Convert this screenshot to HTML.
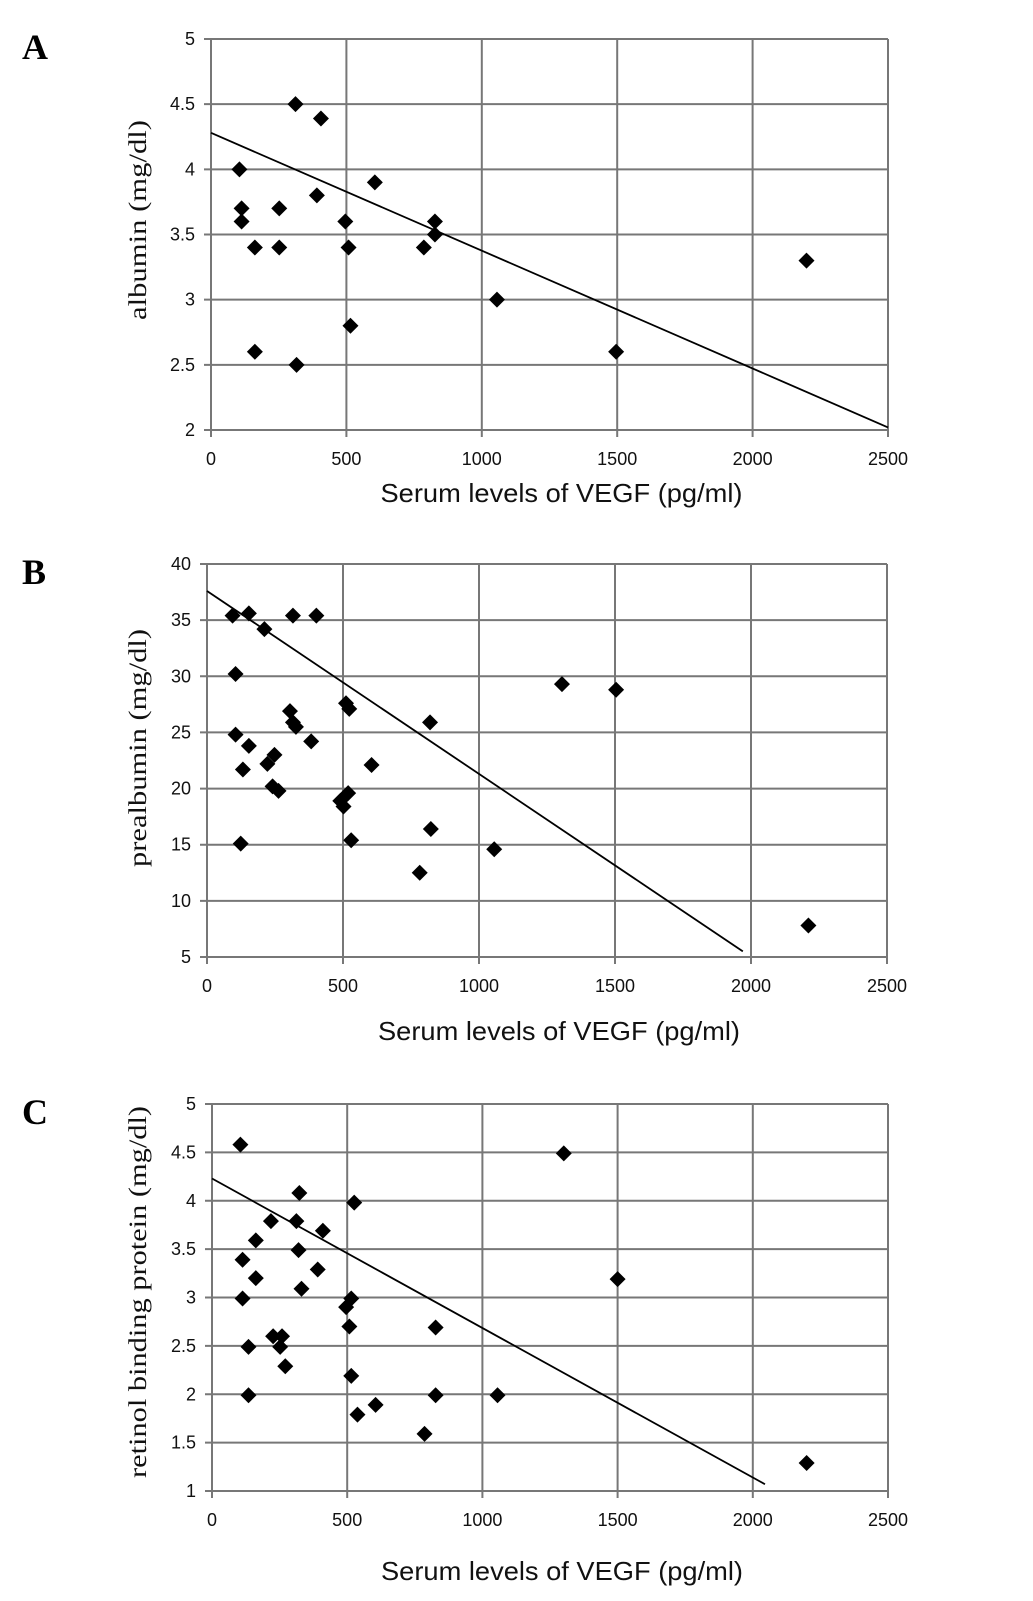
<!DOCTYPE html>
<html><head><meta charset="utf-8"><style>
html,body{margin:0;padding:0;background:#fff;}
svg{display:block;}
.tk{font-family:"Liberation Sans",sans-serif;font-size:18px;fill:#111;}
.xt{font-family:"Liberation Sans",sans-serif;font-size:26px;fill:#111;}
.yt{font-family:"Liberation Serif",serif;font-size:25px;fill:#111;}
.lt{font-family:"Liberation Serif",serif;font-size:36px;font-weight:bold;fill:#000;}
</style></head><body>
<svg id="fig" width="1033" height="1601" viewBox="0 0 1033 1601" xmlns="http://www.w3.org/2000/svg"></svg>
<script>
const xTicks=[0,500,1000,1500,2000,2500];
const aYTicks=[2,2.5,3,3.5,4,4.5,5];
const bYTicks=[5,10,15,20,25,30,35,40];
const cYTicks=[1,1.5,2,2.5,3,3.5,4,4.5,5];
const aX=[105,113,113,162,162,252,252,312,316,406,391,496,508,515,605,786,827,827,1056,1496,2199];
const aY=[4.0,3.7,3.6,3.4,2.6,3.7,3.4,4.5,2.5,4.39,3.8,3.6,3.4,2.8,3.9,3.4,3.6,3.5,3.0,2.6,3.3];
const aTrend=[[0,4.28],[2500,2.02]];
const bX=[94,154,211,316,402,105,105,154,132,222,248,241,263,124,305,316,327,383,511,523,490,502,519,530,605,820,823,782,1056,1305,1504,2211];
const bY=[35.4,35.6,34.2,35.4,35.4,30.2,24.8,23.8,21.7,22.2,23.0,20.2,19.8,15.1,26.9,25.9,25.5,24.2,27.6,27.1,18.9,18.4,19.6,15.4,22.1,25.9,16.4,12.5,14.6,29.3,28.8,7.8];
const bTrend=[[0,37.6],[1970,5.5]];
const cX=[105,113,113,135,135,162,162,218,226,252,259,271,312,323,320,331,391,410,496,515,508,515,526,538,605,786,827,827,1056,1301,1500,2199];
const cY=[4.58,3.39,2.99,2.49,1.99,3.59,3.2,3.79,2.6,2.49,2.6,2.29,3.79,4.08,3.49,3.09,3.29,3.69,2.9,2.99,2.7,2.19,3.98,1.79,1.89,1.59,2.69,1.99,1.99,4.49,3.19,1.29];
const cTrend=[[0,4.23],[2045,1.07]];

const NS="http://www.w3.org/2000/svg";
const svg=document.getElementById('fig');
function mk(tag,attrs,parent){const e=document.createElementNS(NS,tag);for(const k in attrs)e.setAttribute(k,attrs[k]);(parent||svg).appendChild(e);return e;}

function panel(id,letter,L,R,T,B,yTicks,xs,ys,trend,ytitle,ytitleW,ytitleY,xtitleY){
  const g=mk('g',{});
  
  
  const y0=yTicks[0],y1=yTicks[yTicks.length-1];
  const sx=v=>L+(v-0)/2500*(R-L);
  const sy=v=>B-(v-y0)/(y1-y0)*(B-T);
  const lt=mk('text',{x:22,y:T+20,class:'lt'},g);lt.textContent=letter;
  
  
  yTicks.forEach(v=>{
    const y=sy(v);
    const l=mk('line',{x1:L-7,x2:R,y1:y,y2:y,stroke:'#777','stroke-width':2},g);
    
    
    const t=mk('text',{x:L-16,y:y+6,class:'tk','text-anchor':'end'},g);t.textContent=String(v);
    
    
  });
  xTicks.forEach(v=>{
    const x=sx(v);
    const l=mk('line',{x1:x,x2:x,y1:T,y2:B+7,stroke:'#777','stroke-width':2},g);
    
    
    const t=mk('text',{x:x,y:B+35,class:'tk','text-anchor':'middle'},g);t.textContent=String(v);
    
    
  });
  const tl=mk('line',{x1:sx(trend[0][0]),y1:sy(trend[0][1]),x2:sx(trend[1][0]),y2:sy(trend[1][1]),stroke:'#000','stroke-width':1.8},g);
  
  
  xs.forEach((xv,i)=>{
    const x=sx(xv),y=sy(ys[i]),h=8;
    const p=mk('polygon',{points:`${x},${y-h} ${x+h},${y} ${x},${y+h} ${x-h},${y}`,fill:'#000'},g);
    
    
  });
  const xt=mk('text',{x:(L+R)/2+12,y:xtitleY,class:'xt','text-anchor':'middle',textLength:362,lengthAdjust:'spacingAndGlyphs'},g);
  xt.textContent='Serum levels of VEGF (pg/ml)';
  
  
  const yt=mk('text',{x:0,y:0,class:'yt','text-anchor':'middle',textLength:ytitleW,lengthAdjust:'spacingAndGlyphs',transform:`translate(146,${ytitleY}) rotate(-90)`},g);
  yt.textContent=ytitle;
  
  
}
panel('a','A',211,888,39,430,aYTicks,aX,aY,aTrend,'albumin (mg/dl)',200,220,502);
panel('b','B',207,887,564,957,bYTicks,bX,bY,bTrend,'prealbumin (mg/dl)',238,748,1040);
panel('c','C',212,888,1104,1491,cYTicks,cX,cY,cTrend,'retinol binding protein (mg/dl)',372,1292,1580);
</script>
</body></html>
